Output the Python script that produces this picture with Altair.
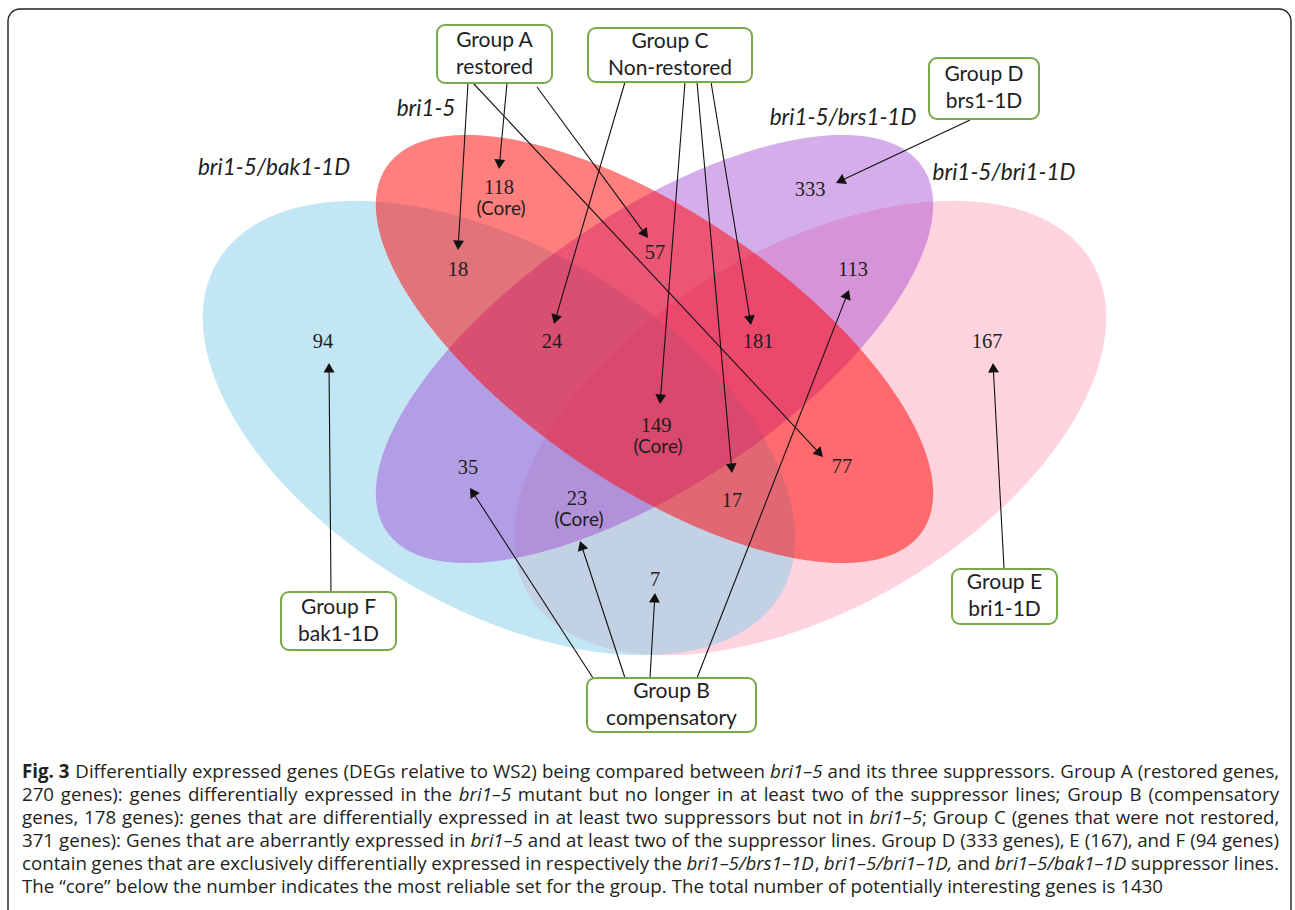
import math
import numpy as np
import pandas as pd
import altair as alt

W, H = 1295, 910

# ---------------- chart content ----------------
set_names = ["bri1-5/bak1-1D", "bri1-5", "bri1-5/brs1-1D", "bri1-5/bri1-1D"]

region_counts = [118, 18, 57, 333, 113, 94, 24, 181, 167, 149, 35, 77, 23, 17, 7]
core_counts = [118, 149, 23]

group_titles = ["Group A", "Group B", "Group C", "Group D", "Group E", "Group F"]
group_subtitles = ["restored", "compensatory", "Non-restored", "brs1-1D", "bri1-1D", "bak1-1D"]
group_targets = [[118, 18, 57, 77], [35, 23, 7, 113], [24, 149, 17, 181], [333], [167], [94]]

# caption, as runs of (text, emphasis) per printed line
caption_runs = [
    [("Fig. 3", "bold"),
     (" Differentially expressed genes (DEGs relative to WS2) being compared between ", "plain"),
     ("bri1–5", "italic"), (" and its three suppressors. Group A (restored genes,", "plain")],
    [("270 genes): genes differentially expressed in the ", "plain"), ("bri1–5", "italic"),
     (" mutant but no longer in at least two of the suppressor lines; Group B (compensatory", "plain")],
    [("genes, 178 genes): genes that are differentially expressed in at least two suppressors but not in ", "plain"),
     ("bri1–5", "italic"), ("; Group C (genes that were not restored,", "plain")],
    [("371 genes): Genes that are aberrantly expressed in ", "plain"), ("bri1–5", "italic"),
     (" and at least two of the suppressor lines. Group D (333 genes), E (167), and F (94 genes)", "plain")],
    [("contain genes that are exclusively differentially expressed in respectively the ", "plain"),
     ("bri1–5/brs1–1D", "italic"), (", ", "plain"), ("bri1–5/bri1–1D,", "italic"), (" and ", "plain"),
     ("bri1–5/bak1–1D", "italic"), (" suppressor lines.", "plain")],
    [("The “core” below the number indicates the most reliable set for the group. "
      "The total number of potentially interesting genes is 1430", "plain")],
]
caption_justified = [True, True, True, True, True, False]

# ---------------- layout (pixel space) ----------------
# ellipse: centre x, centre y, semi-major, semi-minor, tilt in degrees (clockwise)
ELLIPSES = {
    "bri1-5/bak1-1D": (499, 428, 327, 180, 30.5),
    "bri1-5": (654.5, 349, 324, 136, 34.2),
    "bri1-5/brs1-1D": (654.5, 349, 324, 136, -34.2),
    "bri1-5/bri1-1D": (810, 428, 327, 180, -30.5),
}
FILL = {
    "bri1-5/bak1-1D": ("#87ceeb", 0.5),
    "bri1-5": ("#ff0000", 0.5),
    "bri1-5/brs1-1D": ("#9932cc", 0.4),
    "bri1-5/bri1-1D": ("#ff6f91", 0.3),
}
DRAW_ORDER = ["bri1-5/bri1-1D", "bri1-5/bak1-1D", "bri1-5/brs1-1D", "bri1-5"]
SET_LABEL_POS = {
    "bri1-5/bak1-1D": (274, 168),
    "bri1-5": (426, 109),
    "bri1-5/brs1-1D": (843, 118),
    "bri1-5/bri1-1D": (1004, 173),
}
REGION_POS = {
    118: (499, 188), 18: (458, 270), 57: (655, 253), 333: (810, 190), 113: (853, 270),
    94: (323, 342), 24: (552, 342), 181: (758, 342), 167: (987, 342),
    149: (656, 426), 35: (468, 468), 77: (842, 467), 23: (577, 499), 17: (732, 501),
    7: (655, 580),
}
CORE_DY = 21
BOX = {
    "Group A": (437, 25, 552, 83), "Group B": (587, 678, 756, 732),
    "Group C": (588, 28, 752, 82), "Group D": (929, 58, 1039, 119),
    "Group E": (952, 569, 1057, 624), "Group F": (281, 592, 396, 650),
}
ARROW_FROM = {
    118: (507, 83), 18: (468, 83), 57: (537, 87), 77: (473, 83),
    24: (625, 82), 149: (685, 82), 17: (697, 82), 181: (711, 82),
    333: (970, 120), 35: (593, 678), 23: (625, 678), 7: (650, 678), 113: (697, 678),
    94: (331, 592), 167: (1004, 568),
}
ARROW_TIP = {
    118: (499, 169), 18: (458, 250), 57: (648, 238), 77: (823, 457),
    24: (554, 324), 149: (660, 404), 17: (732, 473), 181: (751, 325),
    333: (836, 183), 35: (470, 488), 23: (580, 541), 7: (655, 593), 113: (849, 290),
    94: (329, 363), 167: (993, 363),
}
HEAD_SIZE = 120
CAPTION_Y0, CAPTION_DY = 772, 23
CAPTION_LEFT, CAPTION_RIGHT = 22, 1279
LAST_LINE_END = 1163

SANS = "Lato"
SERIF = "Liberation Serif"
CAPTION_FONT = "Open Sans"
INK = "#1e1e1e"
BOX_GREEN = "#79a94d"

# Open Sans advance widths (units of 1/2048 em) for laying out the justified caption
OS_W = {" ": 532, "(": 596, ")": 596, ",": 502, ".": 545, ":": 545, ";": 545, "/": 752,
        "–": 1024, "-": 659, "“": 727, "”": 727,
        "A": 1296, "B": 1327, "C": 1292, "D": 1493, "E": 1139, "F": 1057, "G": 1491,
        "S": 1124, "T": 1133, "W": 1896,
        "a": 1139, "b": 1255, "c": 975, "d": 1255, "e": 1149, "f": 694, "g": 1122, "h": 1257,
        "i": 518, "j": 518, "k": 1075, "l": 518, "m": 1905, "n": 1257, "o": 1237, "p": 1255,
        "q": 1255, "r": 836, "s": 977, "t": 723, "u": 1257, "v": 1026, "w": 1593, "x": 1073,
        "y": 1028, "z": 954}
for d in "0123456789":
    OS_W[d] = 1171
STYLE_SCALE = {"plain": 1.0, "italic": 0.96, "bold": 1.07}


def text_em(text, style):
    return sum(OS_W.get(ch, 1150) for ch in text) / 2048 * STYLE_SCALE[style]


def X(field):
    return alt.X(field, type="quantitative", scale=alt.Scale(domain=[0, W], nice=False, zero=False), axis=None)


def Y(field):
    return alt.Y(field, type="quantitative",
                 scale=alt.Scale(domain=[0, H], nice=False, zero=False, reverse=True), axis=None)


def ellipse_band(cx, cy, a, b, tilt):
    """Vertical extent of a tilted ellipse for a sweep of x positions."""
    t = math.radians(tilt)
    c, s = math.cos(t), math.sin(t)
    A = s * s / a ** 2 + c * c / b ** 2
    half_w = math.sqrt(a * a * c * c + b * b * s * s)
    rows = []
    for phi in np.linspace(0, math.pi, 500):
        dx = -half_w * math.cos(phi)
        B = 2 * dx * s * c * (1 / a ** 2 - 1 / b ** 2)
        C = dx * dx * (c * c / a ** 2 + s * s / b ** 2) - 1
        r = math.sqrt(max(B * B - 4 * A * C, 0.0))
        rows.append({"x": cx + dx, "ylo": cy + (-B - r) / (2 * A), "yhi": cy + (-B + r) / (2 * A)})
    return pd.DataFrame(rows)


def split_words(runs):
    words, cur = [], []
    for text, style in runs:
        for k, part in enumerate(text.split(" ")):
            if k > 0 and cur:
                words.append(cur)
                cur = []
            if part:
                cur.append((part, style))
    if cur:
        words.append(cur)
    return words


layers = []

# outer frame
frame_df = pd.DataFrame([{"x": 8, "x2": 1291, "y": 9, "y2": 940}])
layers.append(
    alt.Chart(frame_df).mark_rect(cornerRadius=12, fillOpacity=0, stroke="#222222", strokeWidth=1.4)
    .encode(x=X("x"), x2="x2:Q", y=Y("y"), y2="y2:Q")
)

# the four sets
for name in DRAW_ORDER:
    col, op = FILL[name]
    layers.append(
        alt.Chart(ellipse_band(*ELLIPSES[name])).mark_area(color=col, opacity=op)
        .encode(x=X("x"), y=Y("ylo"), y2="yhi:Q")
    )

# set names
set_df = pd.DataFrame([{"x": SET_LABEL_POS[n][0], "y": SET_LABEL_POS[n][1], "t": n} for n in set_names])
layers.append(
    alt.Chart(set_df).mark_text(font=SANS, fontSize=22.5, fontStyle="italic", color=INK, baseline="middle")
    .encode(x=X("x"), y=Y("y"), text="t:N")
)

# arrows from group boxes to regions
seg_rows, head_rows = [], []
h = 0.866 * math.sqrt(HEAD_SIZE) / 2
for title, targets in zip(group_titles, group_targets):
    for tgt in targets:
        sx, sy = ARROW_FROM[tgt]
        tx, ty = ARROW_TIP[tgt]
        L = math.hypot(tx - sx, ty - sy)
        ux, uy = (tx - sx) / L, (ty - sy) / L
        hx, hy = tx - h * ux, ty - h * uy
        seg_rows.append({"x": sx, "y": sy, "x2": hx, "y2": hy, "g": title})
        head_rows.append({"x": hx, "y": hy, "ang": math.degrees(math.atan2(ux, -uy)) % 360, "g": title})
layers.append(
    alt.Chart(pd.DataFrame(seg_rows)).mark_rule(color="#111111", strokeWidth=1.1)
    .encode(x=X("x"), y=Y("y"), x2="x2:Q", y2="y2:Q")
)
layers.append(
    alt.Chart(pd.DataFrame(head_rows)).mark_point(shape="triangle-up", filled=True, size=HEAD_SIZE,
                                                   color="#111111", opacity=1, strokeWidth=0)
    .encode(x=X("x"), y=Y("y"), angle=alt.Angle("ang:Q", scale=None))
)

# group boxes
box_df = pd.DataFrame([{"x": BOX[g][0], "y": BOX[g][1], "x2": BOX[g][2], "y2": BOX[g][3]} for g in group_titles])
layers.append(
    alt.Chart(box_df).mark_rect(cornerRadius=8, fill="white", stroke=BOX_GREEN, strokeWidth=2)
    .encode(x=X("x"), x2="x2:Q", y=Y("y"), y2="y2:Q")
)
box_txt = []
for g, sub in zip(group_titles, group_subtitles):
    x0, y0, x1, y1 = BOX[g]
    mx, my = (x0 + x1) / 2, (y0 + y1) / 2
    box_txt.append({"x": mx, "y": my - 13.5, "t": g})
    box_txt.append({"x": mx, "y": my + 13.5, "t": sub})
layers.append(
    alt.Chart(pd.DataFrame(box_txt)).mark_text(font=SANS, fontSize=21, color=INK, baseline="middle")
    .encode(x=X("x"), y=Y("y"), text="t:N")
)

# region counts
num_df = pd.DataFrame([{"x": REGION_POS[v][0], "y": REGION_POS[v][1], "t": str(v)} for v in region_counts])
layers.append(
    alt.Chart(num_df).mark_text(font=SERIF, fontSize=20.5, color=INK, baseline="middle")
    .encode(x=X("x"), y=Y("y"), text="t:N")
)
core_df = pd.DataFrame([{"x": REGION_POS[v][0] + 2, "y": REGION_POS[v][1] + CORE_DY, "t": "(Core)"}
                        for v in core_counts])
layers.append(
    alt.Chart(core_df).mark_text(font=SANS, fontSize=19, color=INK, baseline="middle")
    .encode(x=X("x"), y=Y("y"), text="t:N")
)

# caption: word-by-word placement so lines are justified like the printed legend
last_words = split_words(caption_runs[-1])
last_em = sum(text_em("".join(t for t, _ in w), "plain") for w in last_words) + \
    (len(last_words) - 1) * OS_W[" "] / 2048
cap_size = (LAST_LINE_END - CAPTION_LEFT) / last_em

cap_rows = []
for li, (runs, just) in enumerate(zip(caption_runs, caption_justified)):
    y = CAPTION_Y0 + li * CAPTION_DY
    words = split_words(runs)
    widths = [sum(text_em(t, s) for t, s in w) * cap_size for w in words]
    if just and len(words) > 1:
        gap = (CAPTION_RIGHT - CAPTION_LEFT - sum(widths)) / (len(words) - 1)
    else:
        gap = OS_W[" "] / 2048 * cap_size
    x = CAPTION_LEFT
    for w, wd in zip(words, widths):
        xr = x
        for t, s in w:
            cap_rows.append({"x": xr, "y": y, "t": t, "e": s})
            xr += text_em(t, s) * cap_size
        x += wd + gap
cap_df = pd.DataFrame(cap_rows)
for e in ["plain", "italic", "bold"]:
    sub = cap_df[cap_df.e == e]
    if sub.empty:
        continue
    kw = dict(font=CAPTION_FONT, fontSize=round(cap_size, 2), color="#231f20", baseline="middle", align="left")
    if e == "italic":
        kw["fontStyle"] = "italic"
    if e == "bold":
        kw["fontWeight"] = "bold"
    layers.append(alt.Chart(sub).mark_text(**kw).encode(x=X("x"), y=Y("y"), text="t:N"))

chart = (
    alt.layer(*layers)
    .properties(width=W, height=H, padding=0, autosize=alt.AutoSizeParams(type="none"), background="white")
    .configure_view(stroke=None)
)
chart.save("out.html", embed_options={"renderer": "svg", "actions": False})
